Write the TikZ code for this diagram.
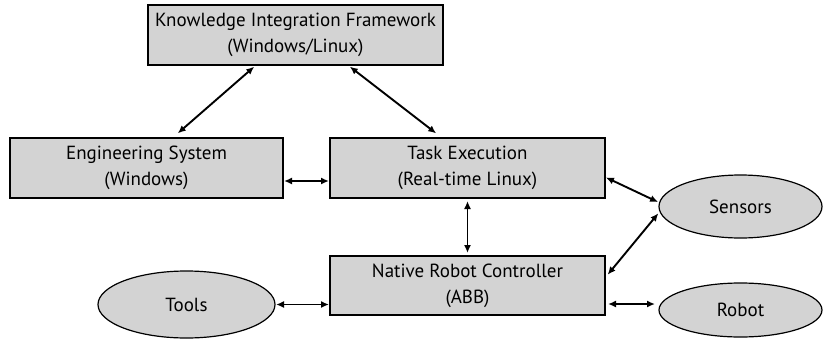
\documentclass[tikz,border=0pt]{standalone}
\usepackage{fontspec}
\setmainfont{PT Sans}
\usetikzlibrary{shapes.geometric,arrows.meta}
\tikzset{
  box/.style={draw=black, line width=1.2pt, fill=boxgray, rectangle, inner sep=0pt, outer sep=0pt, align=center, font=\fontsize{19}{26}\selectfont},
  oval/.style={draw=black, line width=1.2pt, fill=boxgray, ellipse, inner sep=0pt, outer sep=0pt, font=\fontsize{19}{22}\selectfont},
  link/.style={line width=1.9pt, {Latex[length=8pt,width=7pt]}-{Latex[length=8pt,width=7pt]}, shorten <=1pt, shorten >=1pt}
}
\definecolor{boxgray}{RGB}{211,211,211}
\begin{document}
\begin{tikzpicture}[x=1pt,y=-1pt]
\useasboundingbox (0,0) rectangle (823,338);
\node[box, minimum width=295pt, minimum height=60pt] (kif) at (295.5,35) {Knowledge Integration Framework\\(Windows/Linux)};
\node[box, minimum width=273pt, minimum height=60pt] (es) at (146.5,168) {Engineering System\\(Windows)};
\node[box, minimum width=275pt, minimum height=60pt] (te) at (467.5,168) {Task Execution\\(Real-time Linux)};
\node[box, minimum width=275pt, minimum height=59pt] (nrc) at (467.5,285.5) {Native Robot Controller\\(ABB)};
\node[oval, minimum width=163pt, minimum height=63pt] (sens) at (740.5,206.5) {Sensors};
\node[oval, minimum width=163pt, minimum height=54pt] (robot) at (740.5,310) {Robot};
\node[oval, minimum width=177pt, minimum height=67pt] (tools) at (186.5,304.5) {Tools};

\draw[link] ([xshift=107pt,yshift=-1pt]kif.south west) -- ([xshift=167pt,yshift=4pt]es.north west);
\draw[link] ([xshift=201pt,yshift=-1pt]kif.south west) -- ([xshift=107pt,yshift=4pt]te.north west);
\draw[link] ([yshift=-13pt]es.east) -- ([yshift=-13pt]te.west);
\draw[link] ([yshift=-2pt]te.south) -- ([yshift=2pt]nrc.north);
\draw[link] ([yshift=-9pt]te.east) -- ([yshift=4pt]sens.west);
\draw[link] ([xshift=2pt,yshift=10pt]nrc.east) -- ([yshift=-6pt]sens.west);
\draw[link] ([xshift=2pt,yshift=-18.5pt]nrc.east) -- ([xshift=-3pt,yshift=6pt]robot.west);
\draw[link] (tools.east) -- ([yshift=-19pt]nrc.west);
\end{tikzpicture}
\end{document}
